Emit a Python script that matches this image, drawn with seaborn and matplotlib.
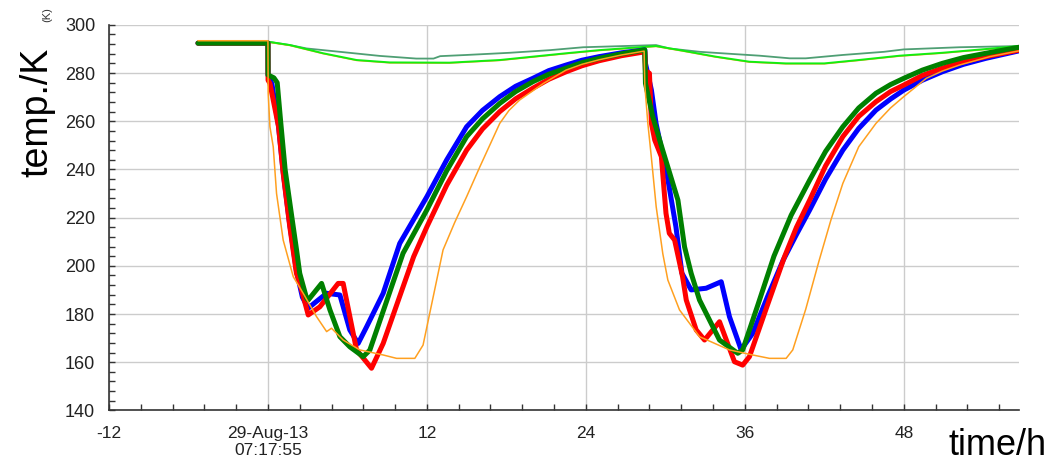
import numpy as np
import matplotlib
matplotlib.use("Agg")
import matplotlib.pyplot as plt
from matplotlib.ticker import MultipleLocator
import seaborn as sns

# ---- data (time in h, temperature in K) ----
blue_t = [-5.28, 0.0, 0.01, 0.3, 0.8, 1.15, 1.6, 2.15, 2.6, 3.04, 3.5, 4.43, 5.43, 6.18, 6.81,
          7.45, 8.7, 9.95, 12, 13.5, 15, 16.2, 17.5, 18.7, 20, 21.2, 22.5, 23.7, 25, 26.7, 28.45,
          28.5, 28.95, 29.3, 30.2, 30.8, 31.25, 31.95, 33.08, 34.22, 34.84, 35.6, 35.72, 36.6,
          37.7, 38.9, 39.9, 40.9, 42.1, 43.4, 44.6, 45.9, 47, 48, 49.4, 50.9, 52.5, 54.2, 56.7]
blue_T = [292.4, 292.4, 279, 275.5, 258, 239, 219, 198, 187, 182.4, 184.5, 188.6, 187.9, 173.4, 167.8,
          174.7, 188.6, 209.3, 228.7, 244, 257.7, 264.5, 270.2, 274.5, 277.8, 281, 283.3, 285.3, 286.8, 288.4, 289.6,
          284, 272.9, 259.1, 235.6, 216.2, 197, 190.0, 190.7, 193.4, 178.9, 167.1, 165.1, 172.0,
          187, 202.4, 213, 223.2, 236, 248, 257, 264.6, 269.2, 272.9, 277, 280.5, 283.6, 286.1, 289.2]

red_t = [-5.28, 0.0, 0.01, 0.15, 0.8, 1.15, 1.65, 2.15, 2.41, 3.04, 3.92, 5.3, 5.68, 6.69, 7.82,
         8.7, 11.0, 12, 13.5, 15, 16.2, 17.5, 18.7, 20, 21.2, 22.5, 23.7, 25, 26.7, 28.45,
         28.5, 28.8, 28.95, 29.2, 29.7, 30.05, 30.3, 30.7, 31.3, 31.58, 32.33, 32.96, 34.09,
         35.22, 35.84, 36.35, 37.6, 39.0, 39.9, 40.9, 42.1, 43.4, 44.6, 45.9, 47, 48, 49.4,
         50.9, 52.5, 54.2, 56.7]
red_T = [292.4, 292.4, 277, 275.7, 257.7, 238.4, 216.2, 196.9, 192.7, 179.6, 183.0, 192.7, 192.7, 165.1, 157.5,
         167.8, 203.8, 216.2, 233.5, 248, 256.8, 264, 269.3, 273.7, 277.4, 280.5, 283, 285.1, 287.2, 288.8,
         281, 279.9, 259.1, 252.2, 245.3, 221.8, 213.5, 210.7, 195.5, 185.8, 173.4, 169.2, 176.8,
         160.2, 158.8, 162.3, 182, 203.8, 216, 227.3, 241.5, 253.6, 262, 268.1, 272.3, 275, 279,
         282, 284.7, 286.8, 289.5]

green_t = [-5.28, 0.0, 0.01, 0.45, 0.7, 0.95, 1.3, 1.8, 2.16, 2.4, 2.92, 3.04, 4.05, 4.68, 5.43,
           6.18, 7.19, 7.69, 10.2, 12, 13.5, 15, 16.2, 17.5, 18.7, 20, 21.2, 22.5, 23.7, 25, 26.7,
           28.45, 28.5, 29.05, 29.8, 30.95, 31.45, 31.95, 32.58, 34.09, 35.47, 35.84, 37, 38.2,
           39.5, 40.9, 42.1, 43.4, 44.6, 45.9, 47, 48, 49.4, 50.9, 52.5, 54.2, 56.7]
green_T = [292.4, 292.4, 279.2, 278, 276, 260.5, 239.8, 220.4, 206.6, 196.9, 186.5, 185.8, 192.7, 181.7, 170.6,
           166.4, 162.3, 165.0, 205.2, 223.2, 239.5, 253.6, 261, 267.4, 272.3, 276.4, 279.5, 282, 284.3, 286.1, 288.0,
           289.6, 275.7, 261.9, 248, 227.3, 207.9, 196.9, 185.8, 169.2, 163.7, 165.1, 184, 204,
           221, 235.6, 247.5, 257.7, 265.5, 271.6, 275.2, 277.8, 281.2, 284, 286.4, 288.2, 290.7]

orange_t = [-5.28, 0.0, 0.01, 0.02, 0.15, 0.4, 0.65, 1.15, 1.91, 2.66, 3.67, 4.43, 4.8, 5.68, 6.94,
            8.7, 9.71, 11.09, 11.71, 13.22, 14.1, 15, 16, 17.5, 18.2, 19, 20.8, 22.5, 23.7, 25, 26.7,
            28.4, 28.45, 28.68, 28.94, 29.31, 29.81, 30.19, 31.07, 32.58, 34.84, 36.6, 37.86, 39.12,
            39.62, 40.6, 41.6, 42.5, 43.4, 44.6, 45.9, 47, 48, 49.7, 50.9, 52.2, 54.5, 56.7]
orange_T = [293.4, 293.4, 280, 271.6, 257.7, 249.4, 230, 210.7, 195.5, 188.6, 178.9, 172.7, 174.1, 169.2, 165.1,
            163.0, 161.6, 161.6, 167.1, 206.6, 218, 228.7, 241.1, 259.1, 264.5, 268.8, 275.7, 281.2, 283.6, 285.5, 287.5,
            289.1, 275, 259.1, 245.3, 224.5, 205, 194.1, 181.7, 170.6, 165.1, 163.0, 161.6, 161.6,
            165.1, 182, 202, 219, 234.2, 249.4, 259.1, 265.5, 270.2, 277.8, 280.8, 283.3, 286.8, 289.2]

sgreen_t = [0, 1.66, 2.92, 5.43, 8.45, 11.2, 12.5, 13, 15, 18.25, 21.3, 23.8, 27.5, 29.3, 30.3,
            32.6, 35.1, 37.1, 39.4, 40.6, 43.4, 46.5, 48, 52.2, 56.7]
sgreen_T = [293.0, 291.6, 290.2, 288.8, 287.1, 286.0, 286.0, 287.0, 287.5, 288.4, 289.5, 290.7, 291.3, 291.6, 290.2,
            288.8, 287.9, 287.2, 286.1, 286.1, 287.5, 288.8, 289.8, 290.7, 291.2]

lime_t = [0, 1.66, 4.17, 6.69, 9.2, 13.7, 17.5, 20, 22.5, 25, 28, 29.3, 31.3, 33.8, 36.35,
          39.1, 42, 44.6, 47.7, 50.9, 54.7, 56.7]
lime_T = [293.0, 291.6, 288.2, 285.4, 284.4, 284.3, 285.4, 286.8, 288.2, 289.5, 290.7, 291.2, 289.3, 286.8, 284.7,
          284.0, 284.0, 285.4, 287.2, 288.4, 290.2, 291.2]
orange_top_T = [292.8, 291.4, 288.0, 285.2, 284.2, 284.1, 285.2, 286.6, 288.0, 289.3, 290.5, 291.0, 289.1, 286.6, 284.5,
                283.8, 283.8, 285.2, 287.0, 288.2, 290.0, 291.0]

x_ticks = [-12, 0, 12, 24, 36, 48]
x_labels = ["-12", "29-Aug-13\n07:17:55", "12", "24", "36", "48"]
y_ticks = [140, 160, 180, 200, 220, 240, 260, 280, 300]

sns.set_style("white")
plt.rcParams['font.family'] = ['Liberation Sans', 'DejaVu Sans']

fig = plt.figure(figsize=(10.54, 4.65), dpi=100)
ax = fig.add_axes([0.1034, 0.1174, 0.8634, 0.8292])

# thin top curves
sns.lineplot(x=sgreen_t, y=sgreen_T, ax=ax, color="#4f9f74", lw=1.3, sort=False, estimator=None)
sns.lineplot(x=lime_t, y=orange_top_T, ax=ax, color="#ffa020", lw=1.0, sort=False, estimator=None)
sns.lineplot(x=lime_t, y=lime_T, ax=ax, color="#11ee11", lw=1.4, sort=False, estimator=None)

# main curves
sns.lineplot(x=blue_t, y=blue_T, ax=ax, color="#0000ff", lw=3.6, sort=False, estimator=None)
sns.lineplot(x=red_t, y=red_T, ax=ax, color="#ff0000", lw=3.6, sort=False, estimator=None)
sns.lineplot(x=green_t, y=green_T, ax=ax, color="#008000", lw=3.6, sort=False, estimator=None)
sns.lineplot(x=orange_t, y=orange_T, ax=ax, color="#ffa020", lw=1.1, sort=False, estimator=None)

ax.set_xlim(-12, 56.7)
ax.set_ylim(140, 300)
ax.set_xticks(x_ticks)
ax.set_xticklabels(x_labels)
ax.set_yticks(y_ticks)
ax.xaxis.set_minor_locator(MultipleLocator(2.4))
ax.yaxis.set_minor_locator(MultipleLocator(4))
ax.set_xlabel("")
ax.set_ylabel("")

ax.grid(True, which="major", color="#cccccc", lw=1.0)
ax.set_axisbelow(True)
for s in ["top", "right"]:
    ax.spines[s].set_visible(False)
for s in ["left", "bottom"]:
    ax.spines[s].set_color("#333333")
    ax.spines[s].set_linewidth(1.2)

ax.tick_params(axis="both", which="both", direction="in", bottom=True, left=True,
               color="#333333", width=1.0, length=4.5)
ax.tick_params(axis="x", which="major", pad=11, labelsize=12.5, labelcolor="#222222")
ax.tick_params(axis="y", which="major", pad=10, labelsize=13, labelcolor="#222222")

fig.text(0.035, 0.759, "temp./K", rotation=90, fontsize=27, ha="center", va="center", color="black")
fig.text(0.0446, 0.968, "(K)", rotation=90, fontsize=8, ha="center", va="center", color="#333333")
fig.text(0.946, 0.043, "time/h", fontsize=26, ha="center", va="center", color="black")

fig.savefig("out.png", dpi=100)
